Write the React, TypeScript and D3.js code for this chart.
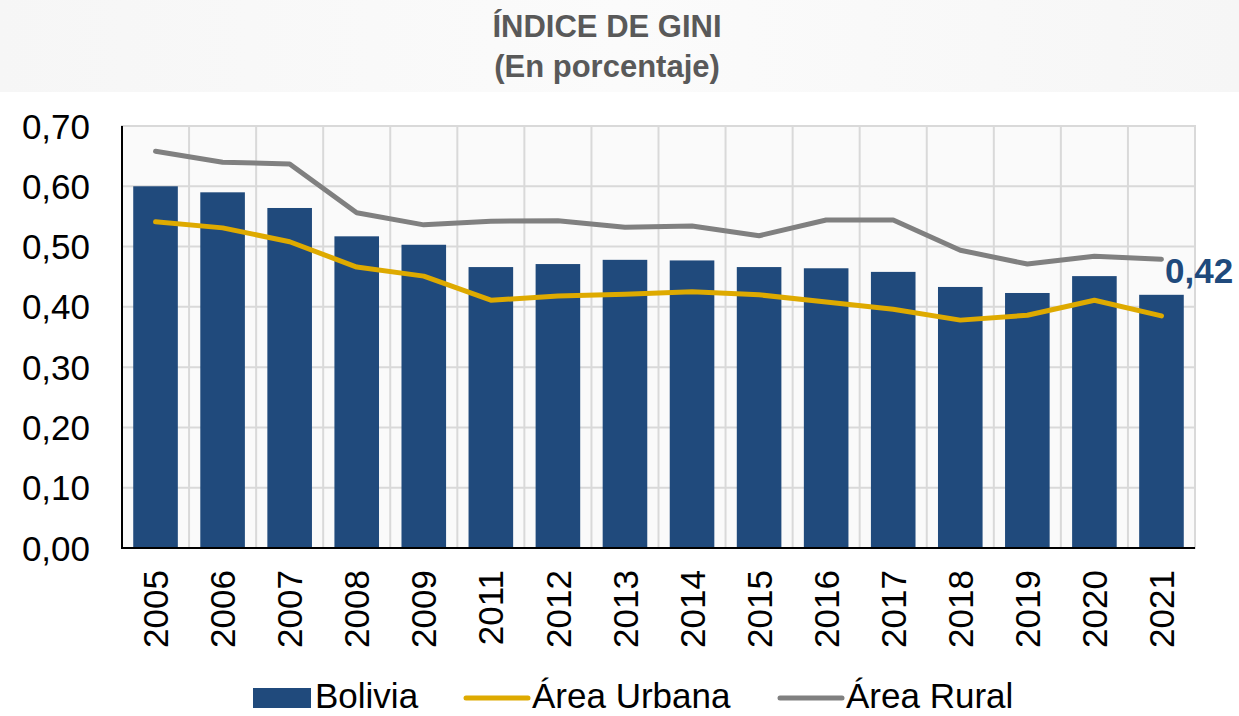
import React from "react";
import * as d3 from "d3";

const years = ["2005", "2006", "2007", "2008", "2009", "2011", "2012", "2013", "2014", "2015", "2016", "2017", "2018", "2019", "2020", "2021"];
const bolivia = [0.6, 0.59, 0.564, 0.517, 0.503, 0.466, 0.471, 0.478, 0.477, 0.466, 0.464, 0.458, 0.433, 0.423, 0.451, 0.42];
const urbana = [0.541, 0.531, 0.508, 0.466, 0.451, 0.411, 0.418, 0.421, 0.425, 0.42, 0.408, 0.396, 0.378, 0.386, 0.411, 0.385];
const rural = [0.658, 0.64, 0.637, 0.556, 0.536, 0.542, 0.543, 0.532, 0.534, 0.518, 0.544, 0.544, 0.494, 0.471, 0.484, 0.479];
const yTicks = [0, 0.1, 0.2, 0.3, 0.4, 0.5, 0.6, 0.7];
const lastLabel = "0,42";

const W = 1239;
const H = 716;
const font = "'Liberation Sans', Arial, sans-serif";
const blue = "#204a7c";
const gold = "#deaa00";
const grey = "#808080";

export default function App() {
  const left = 122;
  const right = 1195;
  const top = 126;
  const bottom = 548;

  const x = d3.scaleBand().domain(years).range([left, right]).paddingInner(0.335).paddingOuter(0.1675);
  const band = d3.scaleBand().domain(years).range([left, right]);
  const y = d3.scaleLinear().domain([0, 0.7]).range([bottom, top]);

  const cx = (i: number) => (x(years[i]) as number) + x.bandwidth() / 2;
  const line = d3
    .line<number>()
    .x((_, i) => cx(i))
    .y((d) => y(d));

  const fmt = (v: number) => v.toFixed(2).replace(".", ",");

  return (
    <svg width={W} height={H} style={{ position: "absolute", left: 0, top: 0, background: "#fff" }} fontFamily={font}>
      <defs>
        <linearGradient id="titleBg" x1="0" x2="1" y1="0" y2="0">
          <stop offset="0" stopColor="#f6f6f6" />
          <stop offset="0.5" stopColor="#fbfbfb" />
          <stop offset="1" stopColor="#f6f6f6" />
        </linearGradient>
      </defs>
      <rect x={0} y={0} width={W} height={92} fill="url(#titleBg)" />
      <text x={607} y={37} textAnchor="middle" fontSize={31} fontWeight="bold" fill="#595959">
        ÍNDICE DE GINI
      </text>
      <text x={607} y={77} textAnchor="middle" fontSize={31} fontWeight="bold" fill="#595959">
        (En porcentaje)
      </text>

      <rect x={left} y={top} width={right - left} height={bottom - top} fill="#fafafa" stroke="#d9d9d9" strokeWidth={2} />
      {yTicks.slice(1).map((t) => (
        <line key={t} x1={left} x2={right} y1={y(t)} y2={y(t)} stroke="#d9d9d9" strokeWidth={2} />
      ))}
      {years.slice(1).map((yr) => (
        <line key={yr} x1={band(yr)} x2={band(yr)} y1={top} y2={bottom} stroke="#d9d9d9" strokeWidth={2} />
      ))}

      {bolivia.map((v, i) => (
        <rect key={years[i]} x={x(years[i])} y={y(v)} width={x.bandwidth()} height={y(0) - y(v)} fill={blue} />
      ))}

      <path d={line(urbana) || ""} fill="none" stroke={gold} strokeWidth={5} strokeLinecap="round" strokeLinejoin="round" />
      <path d={line(rural) || ""} fill="none" stroke={grey} strokeWidth={5} strokeLinecap="round" strokeLinejoin="round" />

      <line x1={left} x2={left} y1={top} y2={bottom + 1} stroke="#000" strokeWidth={2} />
      <line x1={left} x2={right} y1={bottom} y2={bottom} stroke="#000" strokeWidth={2} />

      {yTicks.map((t) => (
        <text key={t} x={90} y={y(t)} dy="0.36em" textAnchor="end" fontSize={35} fill="#000">
          {fmt(t)}
        </text>
      ))}
      {years.map((yr, i) => (
        <text
          key={yr}
          transform={`translate(${cx(i)},570) rotate(-90)`}
          dy="0.36em"
          textAnchor="end"
          fontSize={35}
          fill="#000"
        >
          {yr}
        </text>
      ))}

      <text x={1165} y={y(bolivia[15]) - 12} fontSize={35} fontWeight="bold" fill={blue}>
        {lastLabel}
      </text>

      <g fontSize={35} fill="#000">
        <rect x={253} y={688} width={58} height={20} fill={blue} />
        <text x={315} y={708}>Bolivia</text>
        <line x1={466} x2={528} y1={698} y2={698} stroke={gold} strokeWidth={5} strokeLinecap="round" />
        <text x={532} y={708}>Área Urbana</text>
        <line x1={780} x2={842} y1={698} y2={698} stroke={grey} strokeWidth={5} strokeLinecap="round" />
        <text x={846} y={708}>Área Rural</text>
      </g>
    </svg>
  );
}
